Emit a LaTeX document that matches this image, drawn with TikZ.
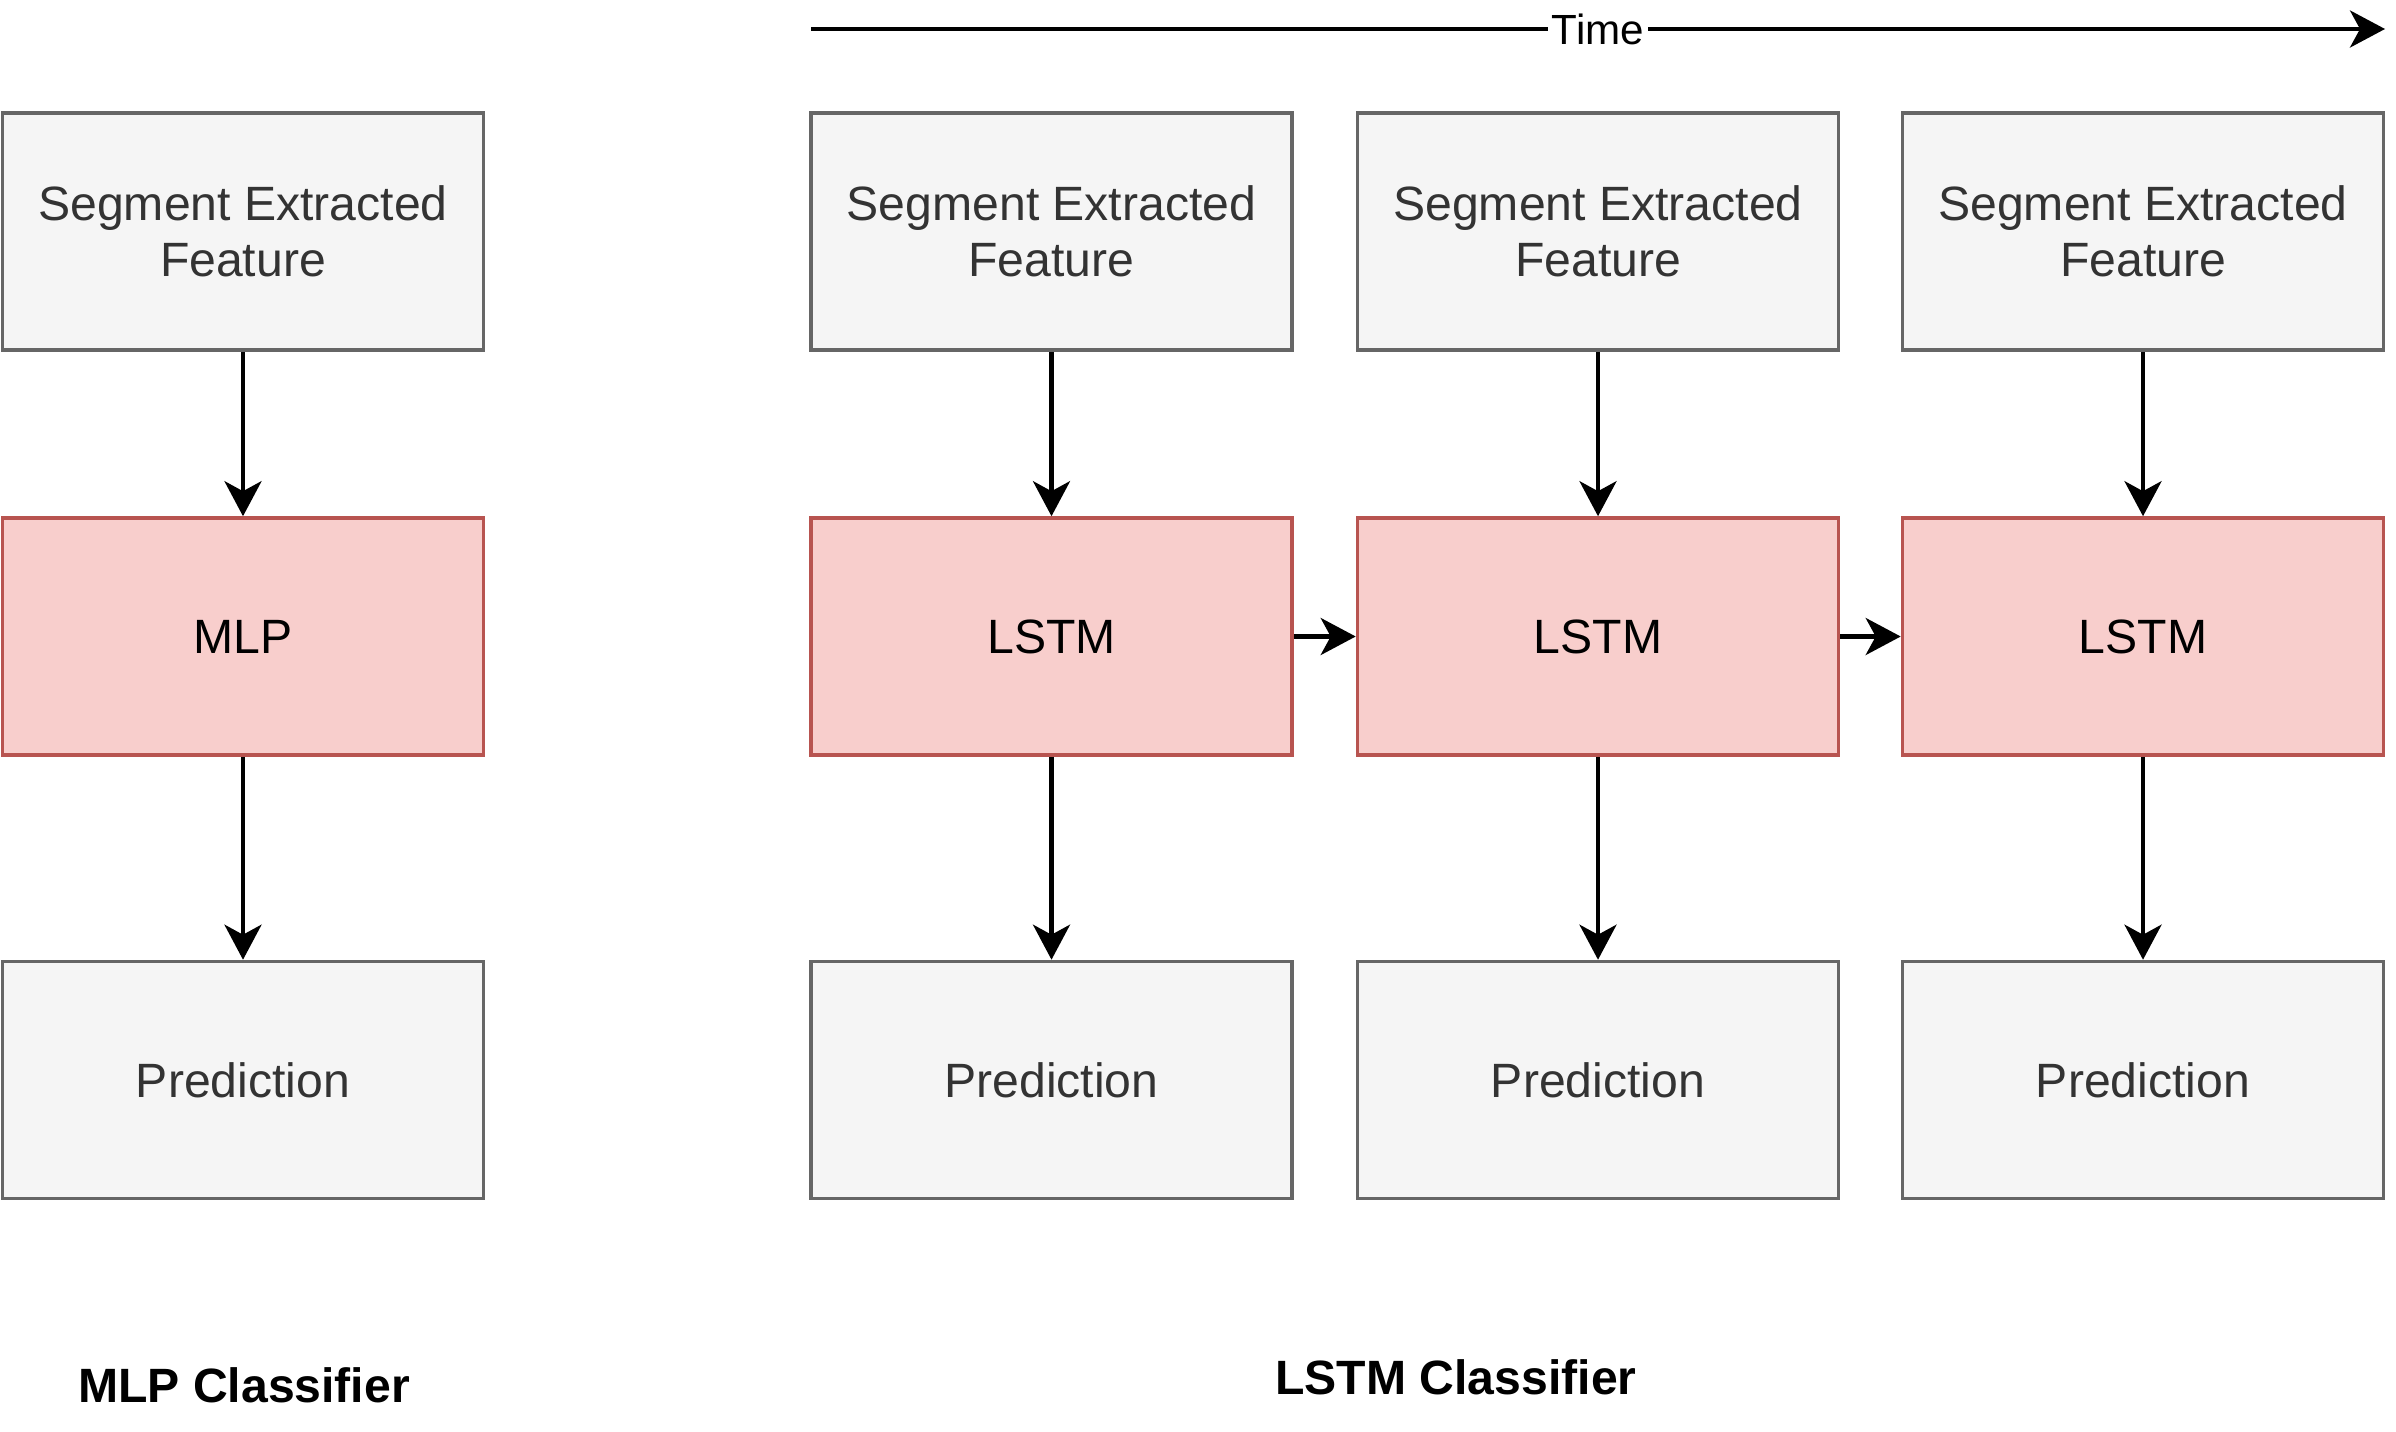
\documentclass[tikz,border=0pt]{standalone}
\usepackage{fontspec}
\setmainfont{Liberation Sans}
\usetikzlibrary{arrows.meta}

\definecolor{grayfill}{HTML}{F5F5F5}
\definecolor{grayline}{HTML}{666666}
\definecolor{graytext}{HTML}{333333}
\definecolor{redfill}{HTML}{F8CECC}
\definecolor{redline}{HTML}{B85450}

\tikzset{
  graybox/.style={draw=grayline, fill=grayfill, text=graytext, line width=0.036cm,
    minimum width=4.81cm, minimum height=2.37cm, align=center, inner sep=0pt,
    font=\fontsize{13.7}{15.8}\selectfont},
  redbox/.style={graybox, draw=redline, fill=redfill, text=black},
  arr/.style={line width=0.042cm, -{Stealth[length=0.35cm, width=0.37cm, inset=0.1cm]}},
  title/.style={font=\bfseries\fontsize{13.7}{15.8}\selectfont}
}

\begin{document}
\begin{tikzpicture}
  \useasboundingbox (0,0) rectangle (23.96,-14.32);

  % Time axis
  \coordinate (ts) at (8.11,-0.29);
  \coordinate (te) at (23.85,-0.29);
  \draw[arr] (ts) -- node[fill=white, inner sep=1pt, font=\fontsize{12}{14}\selectfont] (time) {Time} (te);

  % MLP column
  \node[graybox] (mfeat) at (2.43,-2.315) {Segment Extracted\\Feature};
  \node[redbox]  (mlp)   at (2.43,-6.365) {MLP};
  \node[graybox] (mpred) at (2.43,-10.8)  {Prediction};
  \draw[arr] (mfeat) -- (mlp);
  \draw[arr] (mlp) -- (mpred);

  % LSTM column 1
  \node[graybox] (feat1) at (10.515,-2.315) {Segment Extracted\\Feature};
  \node[redbox]  (lstm1) at (10.515,-6.365) {LSTM};
  \node[graybox] (pred1) at (10.515,-10.8)  {Prediction};
  \draw[arr] (feat1) -- (lstm1);
  \draw[arr] (lstm1) -- (pred1);

  % LSTM column 2
  \node[graybox] (feat2) at (15.98,-2.315) {Segment Extracted\\Feature};
  \node[redbox]  (lstm2) at (15.98,-6.365) {LSTM};
  \node[graybox] (pred2) at (15.98,-10.8)  {Prediction};
  \draw[arr] (feat2) -- (lstm2);
  \draw[arr] (lstm2) -- (pred2);

  % LSTM column 3
  \node[graybox] (feat3) at (21.43,-2.315) {Segment Extracted\\Feature};
  \node[redbox]  (lstm3) at (21.43,-6.365) {LSTM};
  \node[graybox] (pred3) at (21.43,-10.8)  {Prediction};
  \draw[arr] (feat3) -- (lstm3);
  \draw[arr] (lstm3) -- (pred3);

  % recurrent links
  \draw[arr] (lstm1) -- (lstm2);
  \draw[arr] (lstm2) -- (lstm3);

  % titles
  \node[title] (mlptitle)  at (2.44,-13.85)  {MLP Classifier};
  \node[title] (lstmtitle) at (14.56,-13.77) {LSTM Classifier};
\end{tikzpicture}
\end{document}
